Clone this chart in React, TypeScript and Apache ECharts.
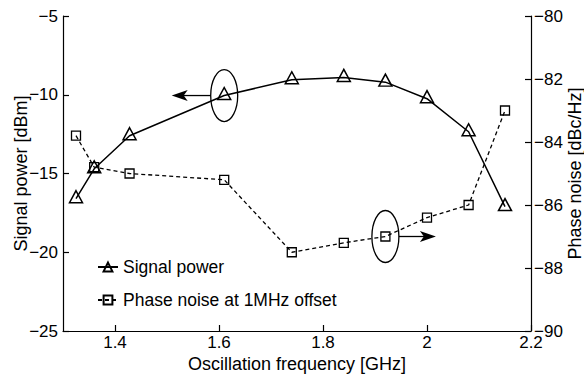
import React, { useEffect, useRef } from "react";
import * as echarts from "echarts";

const freq = [1.325, 1.36, 1.428, 1.61, 1.74, 1.84, 1.92, 2.0, 2.08, 2.15];
const signalPower = [-16.6, -14.7, -12.6, -10.05, -9.05, -8.9, -9.2, -10.25, -12.35, -17.1];
const phaseNoise = [-83.8, -84.8, -85.0, -85.2, -87.5, -87.2, -87.0, -86.4, -86.0, -83.0];
const xTicks = [1.4, 1.6, 1.8, 2.0, 2.2];
const seriesNames = ["Signal power", "Phase noise at 1MHz offset"];
const xName = "Oscillation frequency [GHz]";
const yLeftName = "Signal power [dBm]";
const yRightName = "Phase noise [dBc/Hz]";

const FONT = "Liberation Sans, Arial, Helvetica, sans-serif";
const FS = 17;
const NFS = 18;
const fmt = (v: number) => String(Math.round(v * 10) / 10).replace("-", "\u2212");

export default function App() {
  const ref = useRef<HTMLDivElement>(null);
  useEffect(() => {
    if (!ref.current) return;
    const chart = echarts.init(ref.current, null, { renderer: "svg" });
    const axisCommon = {
      axisLine: { show: true, lineStyle: { color: "#000", width: 1.2 } },
      axisTick: { show: true, inside: true, length: 6, lineStyle: { color: "#000", width: 1.2 } },
      splitLine: { show: false },
      nameMoveOverlap: false,
      nameTextStyle: { color: "#000", fontSize: NFS, fontFamily: FONT },
    };
    chart.setOption({
      animation: false,
      backgroundColor: "#fff",
      grid: { left: 63, right: 53, top: 16, bottom: 43, containLabel: false, outerBoundsMode: "none" },
      legend: {
        orient: "vertical",
        left: 92,
        top: 253,
        itemWidth: 20,
        itemHeight: 11,
        itemGap: 15,
        data: seriesNames,
        textStyle: { color: "#000", fontSize: 17.5, fontFamily: FONT },
      },
      xAxis: {
        type: "value",
        min: 1.3,
        max: 2.2,
        name: xName,
        nameLocation: "middle",
        nameGap: 24,
        ...axisCommon,
        axisTick: { ...axisCommon.axisTick, customValues: xTicks },
        axisLabel: {
          customValues: xTicks,
          color: "#000",
          fontSize: FS,
          fontFamily: FONT,
          margin: 3,
          formatter: (v: number) => fmt(v),
        },
      },
      yAxis: [
        {
          type: "value",
          min: -25,
          max: -5,
          interval: 5,
          name: yLeftName,
          nameLocation: "middle",
          nameGap: 33,
          ...axisCommon,
          axisLabel: { color: "#000", fontSize: FS, fontFamily: FONT, margin: 5, formatter: fmt },
        },
        {
          type: "value",
          min: -90,
          max: -80,
          interval: 2,
          name: yRightName,
          nameLocation: "middle",
          nameGap: 35,
          position: "right",
          ...axisCommon,
          axisLabel: { color: "#000", fontSize: FS, fontFamily: FONT, margin: 3, formatter: fmt },
        },
      ],
      series: [
        {
          name: seriesNames[0],
          type: "line",
          yAxisIndex: 0,
          data: freq.map((f, i) => [f, signalPower[i]]),
          symbol: "triangle",
          symbolSize: [13, 12],
          symbolOffset: [0, -2],
          lineStyle: { color: "#000", width: 1.5 },
          itemStyle: { color: "rgba(0,0,0,0)", borderColor: "#000", borderWidth: 1.5 },
        },
        {
          name: seriesNames[1],
          type: "line",
          yAxisIndex: 1,
          data: freq.map((f, i) => [f, phaseNoise[i]]),
          symbol: "rect",
          symbolSize: 9,
          lineStyle: { color: "#000", width: 1.3, type: [4, 3] },
          itemStyle: { color: "rgba(0,0,0,0)", borderColor: "#000", borderWidth: 1.3 },
        },
      ],
    });

    const p1 = chart.convertToPixel({ xAxisIndex: 0, yAxisIndex: 0 }, [freq[3], signalPower[3]]) as number[];
    const p2 = chart.convertToPixel({ xAxisIndex: 0, yAxisIndex: 1 }, [freq[6], phaseNoise[6]]) as number[];
    const rx = 13.5, ry = 26;
    const stroke = { stroke: "#000", lineWidth: 1.3, fill: "none" };
    const arrow = (x0: number, y: number, x1: number) => {
      const dir = x1 > x0 ? 1 : -1;
      return [
        { type: "line", shape: { x1: x0, y1: y, x2: x1 - dir * 10, y2: y }, style: { stroke: "#000", lineWidth: 1.3 }, z: 10 },
        {
          type: "polygon",
          shape: {
            points: [
              [x1, y],
              [x1 - dir * 16, y - 5.5],
              [x1 - dir * 12, y],
              [x1 - dir * 16, y + 5.5],
            ],
          },
          style: { fill: "#000" },
          z: 10,
        },
      ];
    };
    chart.setOption({
      graphic: [
        { type: "ellipse", shape: { cx: p1[0], cy: p1[1], rx, ry }, style: stroke, z: 10 },
        ...arrow(p1[0] - rx, p1[1], p1[0] - rx - 39),
        { type: "ellipse", shape: { cx: p2[0], cy: p2[1], rx, ry }, style: stroke, z: 10 },
        ...arrow(p2[0] + rx, p2[1], p2[0] + rx + 37),
      ],
    });
    return () => chart.dispose();
  }, []);
  return (
    <div
      ref={ref}
      style={{ position: "absolute", left: 0, top: 0, width: 584, height: 374, background: "#fff" }}
    />
  );
}
